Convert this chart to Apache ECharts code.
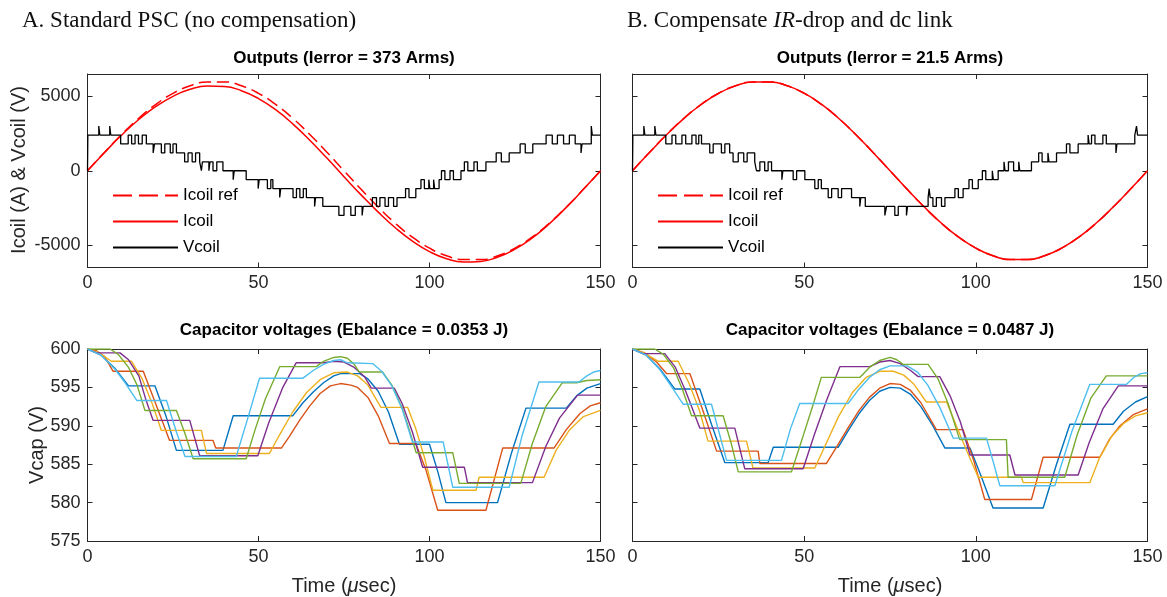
<!DOCTYPE html>
<html><head><meta charset="utf-8">
<script src="https://cdn.jsdelivr.net/npm/echarts@6/dist/echarts.min.js"></script>
<style>html,body{margin:0;padding:0;background:#fff}#c{width:1167px;height:597px}</style>
</head><body><div id="c"></div><script>
// ---------- data ----------
const tSine = [0,5,10,15,20,25,30,35,40,45,50,55,60,65,70,75,80,85,90,95,100,105,110,115,120,125,130,135,140,145,150];
const icoilRef = [0,1250,2440,3530,4460,5200,5710,5970,5970,5710,5200,4460,3530,2440,1250,0,-1250,-2440,-3530,-4460,-5200,-5710,-5970,-5970,-5710,-5200,-4460,-3530,-2440,-1250,0];
const icoilA = [0,1230,2400,3440,4320,5000,5470,5690,5660,5380,4850,4100,3150,2050,850,-400,-1620,-2780,-3830,-4730,-5430,-5910,-6130,-6090,-5800,-5270,-4520,-3570,-2460,-1250,0];
const icoilB = [0,1240,2430,3520,4450,5190,5700,5960,5970,5720,5210,4470,3530,2440,1240,0,-1250,-2440,-3530,-4460,-5200,-5710,-5970,-5970,-5710,-5200,-4460,-3530,-2440,-1250,0];

const vcoilA = [[0,0],[0.1,2400],[3.3,3000],[3.6,2400],[6.5,3000],[6.8,2400],
[9.7,1800],[11.9,2400],[12.9,1800],[13.9,2400],[14.9,1800],[16.0,2400],[17.2,1800],
[19.2,1200],[19.6,1800],[21.6,1200],[22.6,1800],[24.2,1200],[25.0,1800],[26.0,1200],
[28.4,600],[29.4,1200],[30.6,600],[31.6,1200],[32.8,600],
[33.3,0],[33.6,600],[35.5,0],[35.8,600],[36.7,0],[37.8,600],[39.6,0],
[42.6,-600],[42.9,0],[46.4,-600],
[49.9,-1200],[50.2,-600],[52.6,-1200],[53.6,-600],[54.2,-1200],
[56.2,-1800],[56.5,-1200],[60.1,-1800],[61.1,-1200],[62.1,-1800],[63.1,-1200],[64.0,-1800],
[66.4,-2400],[66.7,-1800],[68.8,-2400],
[73.5,-3000],[75.0,-2400],[77.0,-3000],[78.3,-2400],[80.3,-3000],[80.6,-2400],
[83.3,-1800],[84.5,-2400],[85.5,-1800],[87.0,-2400],[88.0,-1800],[89.5,-2400],[90.5,-1800],
[93.0,-1200],[94.0,-1800],[96.0,-1200],
[97.5,-600],[98.5,-1200],[99.8,-600],[100.1,-1200],[101.2,-600],[101.5,-1200],[102.8,-600],
[103.5,0],[104.5,-600],[106.0,0],[107.0,-600],[109.2,0],
[110.2,600],[111.2,0],[113.0,600],[114.0,0],[116.5,600],
[119.5,1200],[121.0,600],[123.3,1200],
[126.5,1800],[128.0,1200],[130.2,1800],
[134.1,2400],[135.9,1800],[137.4,2400],[139.2,1800],[140.9,2400],[142.6,1800],[144.3,1200],[144.6,1800],[147.3,3000],[147.6,2400],[150,2400]];

const vcoilB = [[0,0],[0.1,2400],[3.3,3000],[3.6,2400],[6.5,3000],[6.8,2400],
[9.7,1800],[11.5,2400],[12.6,1800],[14.4,2400],[15.5,1800],[17.3,2400],[18.5,1800],[19.3,2400],[20.1,1800],
[22.5,1200],[23.5,1800],[25.9,1200],[26.9,1800],[28.3,1200],
[29.3,600],[30.8,1200],[32.4,600],[33.4,1200],[35.6,600],
[36.1,0],[37.1,600],[38.5,0],[39.5,600],[40.5,0],
[43.5,-600],[43.8,0],[46.8,-600],[47.8,0],[50.2,-600],
[53.1,-1200],[54.1,-600],[55.0,-1200],
[57.0,-1800],[58.0,-1200],[59.9,-1800],[60.9,-1200],[63.8,-1800],
[66.2,-2400],[66.5,-1800],[67.8,-2400],
[73.5,-3000],[74.0,-2400],[76.4,-3000],[77.4,-2400],[79.8,-3000],[80.1,-2400],
[86.1,-1800],[86.4,-1200],[86.7,-1800],[87.5,-2400],[88.5,-1800],[90.0,-2400],[91.0,-1800],
[93.9,-1200],[94.9,-1800],[96.3,-1200],
[98.0,-600],[99.0,-1200],[100.7,-600],
[101.9,0],[102.9,-600],[104.8,0],[105.1,-600],[106.5,0],
[108.2,600],[108.5,0],[109.5,600],[111.0,0],[112.5,600],[112.8,0],[116.2,600],
[118.3,1200],[119.3,600],[121.0,1200],[121.3,600],[123.5,1200],
[126.4,1800],[127.4,1200],[129.8,1800],
[132.7,2400],[133.0,1800],[133.7,2400],[134.7,1800],[137.0,2400],[138.0,1800],[140.8,1200],[141.1,1800],[146.3,2400],[146.8,3000],[147.1,2400],[150,2400]];

// capacitor voltages, panel A (blue, orange, yellow, purple, green, light blue)
const capA1 = [[0,600],[4,599.2],[8,597.5],[12,595.2],[19.7,595.2],[23,591.2],[26,586.8],[39.6,586.8],[42.6,591.3],[60,591.3],[63,593.0],[66,594.4],[69,595.6],[72,596.5],[74,596.8],[79.6,596.8],[82,596.1],[85,594.5],[88,591.8],[91.2,587.6],[100,587.6],[102.5,583.9],[104.8,580],[119.9,580],[124,586.5],[128.2,592.3],[140,592.3],[143,593.9],[146,594.9],[150,595.5]];
const capA2 = [[0,600],[2.5,599.8],[5,599],[7.5,597.1],[16.3,597.1],[20,592.8],[24,588.1],[36.7,588.1],[37.5,587.1],[56.7,587.1],[59,588.6],[62,590.7],[65,592.6],[68,594.2],[71,595.2],[74,595.5],[77,595.3],[79,595],[82,593.7],[85,591.3],[88.3,587.7],[96,587.7],[99,584.2],[102.4,579],[116.5,579],[121.4,587.1],[136.4,587.1],[140,589.5],[144,591.6],[147,592.6],[150,593]];
const capA3 = [[0,600],[3,599.6],[7,598.4],[12.9,598.4],[16,596.1],[19,592.8],[21.6,589.4],[33.3,589.4],[34.8,586.4],[53.2,586.4],[56,588.7],[60,591.8],[64,594.3],[68,596],[72,596.9],[76,597],[79,596.5],[82,595.3],[85.8,592.4],[93.6,592.4],[96,589.6],[98.5,585.9],[101,581.6],[113.6,581.6],[114.5,583.3],[133.5,583.3],[137,586.8],[141,589.5],[145,591.2],[150,592]];
const capA4 = [[0,600],[2.7,599.5],[9.5,599.5],[12,598.6],[15,596.5],[17,593.5],[19.2,590.7],[29.9,590.7],[32.8,586.1],[49.8,586.1],[53,590.4],[57,594.9],[61,598.2],[68.8,598.2],[72,598.4],[75,598.3],[78,597.6],[81,596.4],[83,594.9],[89.7,594.9],[92,592.9],[95,589.2],[98,584.6],[110.2,584.6],[111.1,582.6],[130.1,582.6],[134,587.3],[138,591],[143.3,594],[150,594]];
const capA5 = [[0,600],[6.6,600],[9,599.3],[12,597.6],[14.5,595.3],[16.8,592],[26,592],[28.5,589],[30.9,585.7],[46.4,585.7],[49,589.5],[52,593.5],[56.2,597.7],[66.9,597.7],[69,598.4],[72,598.9],[74,599],[76,598.8],[78,598],[79.5,597],[86.3,597],[89,595.3],[92,592.3],[94,589.6],[96.1,586.5],[106.8,586.5],[108.7,582.5],[126.7,582.5],[130,587.6],[134,592.5],[138.8,595.6],[143,595.6],[146,595.9],[150,596]];
const capA6 = [[0,600],[4,599.2],[8,597.4],[11,595.6],[14.4,593.3],[23.1,593.3],[26,589.2],[28.5,586],[43.5,586],[47,591.2],[50.3,596.2],[63,596.2],[66,597.2],[69,598],[72,598.5],[74,598.6],[76,598.2],[83.4,598.1],[86,597.1],[89,595.2],[92,592.2],[95,587.9],[104,587.9],[106.8,582],[123.3,582],[127,588.6],[132,595.7],[143.7,595.7],[146,596.5],[148,597],[150,597.2]];

// capacitor voltages, panel B
const capB1 = [[0,600],[4,599.2],[8,597.4],[12.3,594.8],[19.6,594.8],[23,590.2],[26.9,585.2],[39.5,585.2],[41,587.2],[59.9,587.2],[63,589.5],[66,591.6],[69,593.3],[72,594.5],[75,595],[78,594.9],[81,594.1],[84,592.5],[87.5,590],[91,587.1],[98.3,587.1],[101.5,583.5],[105,579.3],[119.6,579.3],[123.5,585],[127.4,590.2],[140,590.2],[143,591.9],[146.5,593.1],[150,593.8]];
const capB2 = [[0,600],[3.5,599.5],[7,598.3],[9.9,596.8],[16.7,596.8],[20.5,592],[24.5,586.7],[36.6,586.7],[37.1,585.1],[56.5,585.1],[59.5,587.3],[63,589.9],[66,592],[69,593.7],[72,594.9],[75,595.5],[78,595.4],[81,594.6],[84,593],[88.5,589.5],[96.3,589.5],[99.5,585.3],[102.6,580.4],[116.2,580.4],[119.6,585.9],[136.1,585.9],[139,588.3],[142,590],[146,591.5],[150,592.2]];
const capB3 = [[0,600],[3,599.6],[7.5,598.4],[13.3,598.4],[16.5,595.5],[19.5,592],[22,588],[33.2,588],[35.1,584.5],[53.1,584.5],[56,587.3],[60,591.2],[64,594.3],[68,596.3],[72,597.1],[76,597.1],[79,596.6],[82,595.4],[85.6,593.1],[91.5,593.1],[94.5,589.8],[97.5,586.6],[100.7,583.3],[113.3,583.3],[113.8,582.6],[133.2,582.6],[136,585.8],[139.5,588.6],[143,590.3],[146.5,591.3],[150,591.7]];
const capB4 = [[0,600],[3.1,599.4],[9.4,599.4],[12.5,597.6],[15.5,594.5],[19.6,589.7],[29.8,589.7],[32.7,584.4],[49.7,584.4],[53,588.9],[56.5,593.3],[60.4,597.7],[69.1,597.7],[72,598.3],[75,598.5],[78,598.1],[81,597.2],[83.2,596.4],[89.5,596.4],[92.5,593.9],[95.5,590.5],[98.3,586.2],[109.9,586.2],[111.4,583.6],[129.8,583.6],[133,587.8],[137,592.2],[141.5,595.2],[150,595.2]];
const capB5 = [[0,600],[6.5,600],[9,599.3],[12,597.5],[14.5,594.8],[17.2,591.3],[26.4,591.3],[28.7,587.8],[30.8,584],[46.3,584],[49.5,588.4],[52.5,592.6],[55,596.3],[66.2,596.3],[69,597.6],[72,598.5],[75,598.9],[77,598.6],[78.8,598],[86.1,598],[89,596.1],[92,592.8],[95.3,588.2],[108.9,588.2],[109.4,583.3],[125.9,583.3],[129.5,588.8],[133.5,593.6],[138,596.5],[150,596.5]];
const capB6 = [[0,600],[4,599.2],[8,597.3],[11.5,595],[14.8,592.8],[23,592.8],[25.3,589],[27.4,585.5],[43.4,585.5],[46,589.6],[48.7,592.9],[62.8,592.9],[66,594.8],[69,596.3],[72,597.3],[75,597.8],[80,597.8],[83,597],[86,595.3],[89.5,592.4],[93.4,588.4],[103.1,588.4],[105,585.4],[107,582.2],[123,582.2],[128,589.3],[133.2,595.4],[143.9,595.4],[146,596.3],[148,596.8],[150,596.9]];

const yTicksTop = [-5000, 0, 5000];
const capColors = ['#0072BD','#D95319','#EDB120','#7E2F8E','#77AC30','#4DBEEE'];

// ---------- chart ----------
const FONT = "'Liberation Sans', Arial, sans-serif";
const AX = '#262626';
const chart = echarts.init(document.getElementById('c'), null, {renderer:'canvas'});

const grids = [
  {left:87.5, top:74, width:513, height:193.5},
  {left:632.5, top:74, width:515, height:193.5},
  {left:87.5, top:349, width:513, height:192},
  {left:632.5, top:349, width:515, height:192}
];

function xAx(gi, pos, showLabel){
  return {type:'value', gridIndex:gi, position:pos, min:0, max:150, interval:50,
    axisLine:{show:true, onZero:false, lineStyle:{color:AX, width:1}},
    axisTick:{show:true, inside:true, length:5, lineStyle:{color:AX}},
    axisLabel:{show:showLabel, color:AX, fontSize:18, fontFamily:FONT, margin:7},
    splitLine:{show:false}};
}
function yAxTop(gi, pos, showLabel){
  return {type:'value', gridIndex:gi, position:pos, min:-6500, max:6500,
    axisLine:{show:true, onZero:false, lineStyle:{color:AX, width:1}},
    axisTick:{show:true, inside:true, length:5, lineStyle:{color:AX}, customValues:yTicksTop},
    axisLabel:{show:showLabel, color:AX, fontSize:18, fontFamily:FONT, margin:7, customValues:yTicksTop, formatter:v=>String(v)},
    splitLine:{show:false}};
}
function yAxBot(gi, pos, showLabel){
  return {type:'value', gridIndex:gi, position:pos, min:575, max:600, interval:5,
    axisLine:{show:true, onZero:false, lineStyle:{color:AX, width:1}},
    axisTick:{show:true, inside:true, length:5, lineStyle:{color:AX}},
    axisLabel:{show:showLabel, color:AX, fontSize:18, fontFamily:FONT, margin:7},
    splitLine:{show:false}};
}

const xAxis = [xAx(0,'bottom',true), xAx(1,'bottom',true), xAx(2,'bottom',true), xAx(3,'bottom',true),
  xAx(0,'top',false), xAx(1,'top',false), xAx(2,'top',false), xAx(3,'top',false)];
const yAxis = [yAxTop(0,'left',true), yAxTop(1,'left',false), yAxBot(2,'left',true), yAxBot(3,'left',false),
  yAxTop(0,'right',false), yAxTop(1,'right',false), yAxBot(2,'right',false), yAxBot(3,'right',false)];

const series = [];
function pair(ts, vs){ return ts.map((t,i)=>[t, vs[i]]); }
[[0, icoilA, vcoilA],[1, icoilB, vcoilB]].forEach(([g, ic, vc])=>{
  series.push({name:'Icoil ref', type:'line', xAxisIndex:g, yAxisIndex:g, data:pair(tSine, icoilRef),
    smooth:0.5, symbol:'none', lineStyle:{color:'#FF0000', width:1.5, type:[12,6]}, itemStyle:{color:'#FF0000'}, z:2});
  series.push({name:'Icoil', type:'line', xAxisIndex:g, yAxisIndex:g, data:pair(tSine, ic),
    smooth:0.5, symbol:'none', lineStyle:{color:'#FF0000', width:1.5}, itemStyle:{color:'#FF0000'}, z:3});
  series.push({name:'Vcoil', type:'line', xAxisIndex:g, yAxisIndex:g, data:vc, step:'end',
    symbol:'none', lineStyle:{color:'#000000', width:1.3}, itemStyle:{color:'#000000'}, z:4});
});
[[2,[capA1,capA2,capA3,capA4,capA5,capA6]],[3,[capB1,capB2,capB3,capB4,capB5,capB6]]].forEach(([g, caps])=>{
  caps.forEach((d,i)=>{
    series.push({name:'cap'+(g)+i, type:'line', xAxisIndex:g, yAxisIndex:g, data:d,
      symbol:'none', lineStyle:{color:capColors[i], width:1.4}, z:2+i});
  });
});

function legendAt(left){
  return {left:left, top:187, padding:0, orient:'vertical', itemWidth:65, itemHeight:14, itemGap:9,
    selectedMode:false,
    data:[{name:'Icoil ref', lineStyle:{type:[19,7]}}, 'Icoil', 'Vcoil'],
    itemStyle:{color:'rgba(0,0,0,0)', borderWidth:0, opacity:0},
    textStyle:{fontSize:17, color:'#000', fontFamily:FONT}};
}

function txt(x, y, text, opts){
  return {type:'text', x:x, y:y, silent:true,
    style:Object.assign({text:text, fill:'#000', fontFamily:FONT, fontSize:17, align:'center', verticalAlign:'middle'}, opts||{})};
}
const serif = "'Liberation Serif', 'DejaVu Serif', serif";
const graphic = [
  txt(22, 21, 'A. Standard PSC (no compensation)', {align:'left', fontFamily:serif, fontSize:23, fill:'#111'}),
  txt(627, 21, 'B. Compensate {i|IR}-drop and dc link', {align:'left', fontFamily:serif, fontSize:23, fill:'#111',
      rich:{i:{fontStyle:'italic', fontFamily:serif, fontSize:23, fill:'#111'}}}),
  txt(344, 58, 'Outputs (Ierror = 373 Arms)', {fontWeight:'bold'}),
  txt(890, 58, 'Outputs (Ierror = 21.5 Arms)', {fontWeight:'bold'}),
  txt(344, 330, 'Capacitor voltages (Ebalance = 0.0353 J)', {fontWeight:'bold'}),
  txt(890, 330, 'Capacitor voltages (Ebalance = 0.0487 J)', {fontWeight:'bold'}),
  Object.assign(txt(19, 170, 'Icoil (A) & Vcoil (V)', {fontSize:20, fill:AX}), {rotation:Math.PI/2}),
  Object.assign(txt(37, 445, 'Vcap (V)', {fontSize:20, fill:AX}), {rotation:Math.PI/2}),
  txt(344, 586, 'Time ({i|μ}sec)', {fontSize:20, fill:AX, rich:{i:{fontStyle:'italic', fontSize:20, fontFamily:FONT, fill:AX}}}),
  txt(890, 586, 'Time ({i|μ}sec)', {fontSize:20, fill:AX, rich:{i:{fontStyle:'italic', fontSize:20, fontFamily:FONT, fill:AX}}})
];

chart.setOption({
  animation:false,
  backgroundColor:'#fff',
  grid:grids,
  xAxis:xAxis,
  yAxis:yAxis,
  legend:[legendAt(112), legendAt(657)],
  series:series,
  graphic:graphic
});
</script></body></html>
